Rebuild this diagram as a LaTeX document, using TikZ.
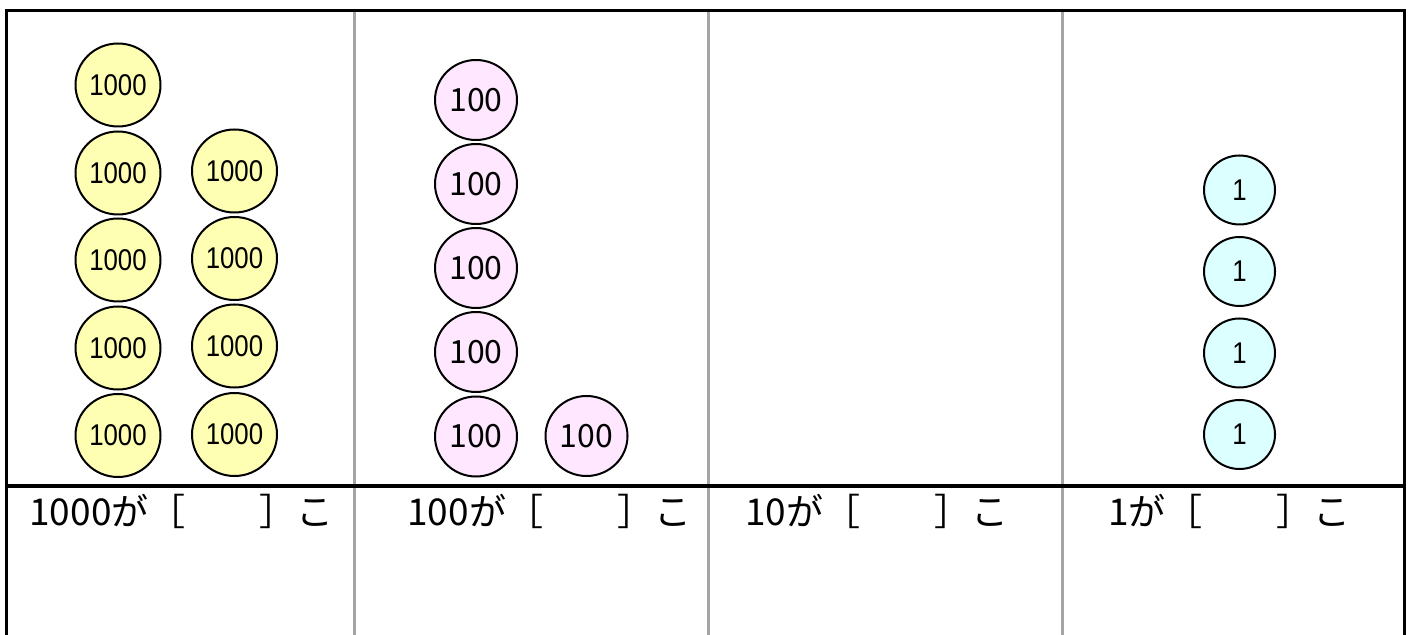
\documentclass[tikz,border=0pt]{standalone}
\usepackage{fontspec}
\usepackage{tikz}
\usetikzlibrary{shapes.geometric}
\newfontfamily\jpfont{Noto Sans CJK JP}
\newfontfamily\coinfont[FakeStretch=0.86]{Liberation Sans}
\definecolor{CoinYellow}{RGB}{255,255,180}
\definecolor{CoinPink}{RGB}{255,232,255}
\definecolor{CoinCyan}{RGB}{220,255,255}
\definecolor{RuleGray}{RGB}{165,165,165}

\begin{document}
\begin{tikzpicture}[x=0.5pt, y=-0.5pt,
          coin/.style={ellipse, draw=black, line width=1pt, inner sep=0pt},
          ycoin/.style={coin, fill=CoinYellow, minimum width=42.5pt,
                        minimum height=41.5pt,
                        font=\coinfont\fontsize{15}{15}\selectfont},
          pcoin/.style={coin, fill=CoinPink, minimum width=41pt,
                        minimum height=40pt,
                        font=\jpfont\fontsize{16}{16}\selectfont},
          ccoin/.style={coin, fill=CoinCyan, minimum width=35.5pt,
                        minimum height=34.5pt,
                        font=\coinfont\fontsize{15}{15}\selectfont},
          lbl/.style={anchor=base west, inner sep=0pt,
                      font=\jpfont\fontsize{18.5}{18.5}\selectfont},
          sep/.style={RuleGray, line width=1.5pt}
        ]
        \useasboundingbox (0,0) rectangle (1411,635);

        % table frame
        \draw[sep] (354.5,11) -- (354.5,640);
        \draw[sep] (708,11) -- (708,640);
        \draw[sep] (1062,11) -- (1062,640);
        \draw[line width=1.5pt] (6.5,640) -- (6.5,11) -- (1404.5,11)
              -- (1404.5,640);
        \draw[line width=2pt] (6.5,486) -- (1404.5,486);

        % 1000 coins (yellow)
        \foreach \i/\x/\y in {
          y1/118/85, y2/118/173, y3/118/260, y4/118/348, y5/118/435.5,
          y6/234.5/171, y7/234.5/258.5, y8/234.5/346, y9/234.5/434.5} {
          \node[ycoin] (\i) at (\x, \y) {1000};
        }

        % 100 coins (pink)
        \foreach \i/\x/\y in {
          p1/476/100, p2/476/184, p3/476/268, p4/476/352, p5/476/436.5,
          p6/586.5/436} {
          \node[pcoin] (\i) at (\x, \y) {100};
        }

        % 1 coins (cyan)
        \foreach \i/\x/\y in {
          c1/1239.5/190, c2/1239.5/271.5, c3/1239.5/353, c4/1239.5/434.5} {
          \node[ccoin] (\i) at (\x, \y) {1};
        }

        % answer row
        \node[lbl] (L1) at (29, 525) {1000が［　　］こ};
        \node[lbl] (L2) at (407, 525) {100が［　　］こ};
        \node[lbl] (L3) at (745, 525) {10が［　　］こ};
        \node[lbl] (L4) at (1108, 525) {1が［　　］こ};
      \end{tikzpicture}
\end{document}
